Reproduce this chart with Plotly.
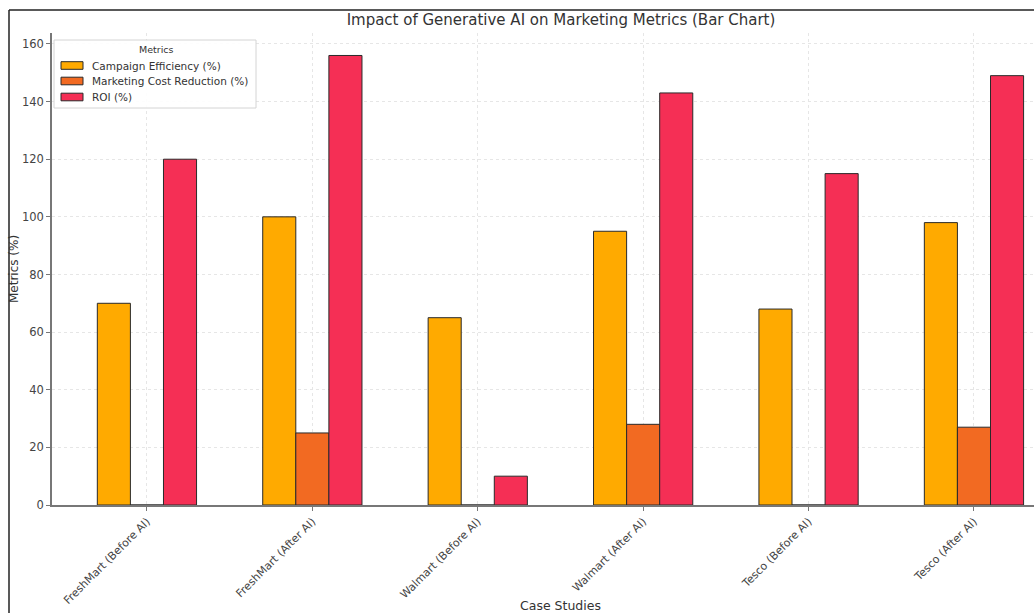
import plotly.graph_objects as go

categories = ["FreshMart (Before AI)", "FreshMart (After AI)", "Walmart (Before AI)",
              "Walmart (After AI)", "Tesco (Before AI)", "Tesco (After AI)"]
campaign_efficiency = [70, 100, 65, 95, 68, 98]
cost_reduction = [0, 25, 0, 28, 0, 27]
roi = [120, 156, 10, 143, 115, 149]
y_ticks = [0, 20, 40, 60, 80, 100, 120, 140, 160]
series_names = ["Campaign Efficiency (%)", "Marketing Cost Reduction (%)", "ROI (%)"]
series_colors = ["#FFAA00", "#F26A22", "#F52F55"]

FONT = "DejaVu Sans"
W, H = 1034, 613
L, R, T, B = 52, 0, 33, 108
pw, ph = W - L - R, H - T - B

def px_x(x):
    return (x - L) / pw

def px_y(y):
    return (H - B - y) / ph

fig = go.Figure()
for name, vals, col in zip(series_names, [campaign_efficiency, cost_reduction, roi], series_colors):
    fig.add_trace(go.Bar(x=list(range(len(categories))), y=vals, name=name,
                         marker=dict(color=col, line=dict(color="#2a2a2a", width=1))))

fig.update_layout(
    width=W, height=H,
    margin=dict(l=L, r=R, t=T, b=B),
    paper_bgcolor="white", plot_bgcolor="white",
    barmode="group", bargap=0.4, bargroupgap=0,
    font=dict(family=FONT, color="#333333"),
    title=dict(text="Impact of Generative AI on Marketing Metrics (Bar Chart)",
               font=dict(size=15, color="#333333", family=FONT),
               xref="paper", x=px_x(561), xanchor="center",
               yref="container", y=1 - 20 / H, yanchor="middle"),
    showlegend=False,
)

fig.update_xaxes(range=[-0.574, 5.363], tickmode="array",
                 tickvals=list(range(len(categories))), ticktext=categories,
                 tickangle=-45, tickfont=dict(size=11, family=FONT, color="#444444"),
                 showline=True, linecolor="#777777", linewidth=1.5,
                 ticks="outside", ticklen=4, tickcolor="#777777",
                 showgrid=True, gridcolor="#e6e6e6", griddash="dot", gridwidth=1,
                 zeroline=False)
fig.update_yaxes(range=[0, 163.8], tickmode="array", tickvals=y_ticks,
                 tickfont=dict(size=11.5, family=FONT, color="#444444"),
                 showline=True, linecolor="#777777", linewidth=1.5,
                 ticks="outside", ticklen=4, tickcolor="#777777",
                 showgrid=True, gridcolor="#e6e6e6", griddash="dot", gridwidth=1,
                 zeroline=False)

fig.add_annotation(text="Case Studies", xref="paper", yref="paper",
                   x=px_x(560), y=px_y(605), xanchor="center", yanchor="middle",
                   showarrow=False, font=dict(size=12.5, family=FONT, color="#333333"))
fig.add_annotation(text="Metrics (%)", xref="paper", yref="paper",
                   x=px_x(14), y=px_y(269), xanchor="center", yanchor="middle",
                   textangle=-90, showarrow=False,
                   font=dict(size=12, family=FONT, color="#333333"))

# legend (drawn manually to match the compact matplotlib layout)
fig.add_shape(type="rect", xref="paper", yref="paper",
              x0=px_x(54), y0=px_y(40), x1=px_x(256), y1=px_y(108),
              fillcolor="rgba(255,255,255,0.9)", line=dict(color="#d4d4d4", width=1),
              layer="above")
fig.add_annotation(text="Metrics", xref="paper", yref="paper",
                   x=px_x(156), y=px_y(49), xanchor="center", yanchor="middle",
                   showarrow=False, font=dict(size=9.5, family=FONT, color="#333333"))
row_y = [65.5, 81, 97]
for name, col, ry in zip(series_names, series_colors, row_y):
    fig.add_shape(type="rect", xref="paper", yref="paper",
                  x0=px_x(61), y0=px_y(ry - 3.8), x1=px_x(83), y1=px_y(ry + 3.8),
                  fillcolor=col, line=dict(color="#2a2a2a", width=1), layer="above")
    fig.add_annotation(text=name, xref="paper", yref="paper",
                       x=px_x(90), y=px_y(ry), xanchor="left", yanchor="middle",
                       showarrow=False, font=dict(size=10.5, family=FONT, color="#333333"))

# outer figure frame (top and left edges visible)
fig.add_shape(type="line", xref="paper", yref="paper",
              x0=px_x(9), y0=px_y(10), x1=px_x(1034), y1=px_y(10),
              line=dict(color="#222222", width=1.5), layer="above")
fig.add_shape(type="line", xref="paper", yref="paper",
              x0=px_x(9), y0=px_y(10), x1=px_x(9), y1=px_y(613),
              line=dict(color="#222222", width=1.5), layer="above")

fig.write_html("out.html")
